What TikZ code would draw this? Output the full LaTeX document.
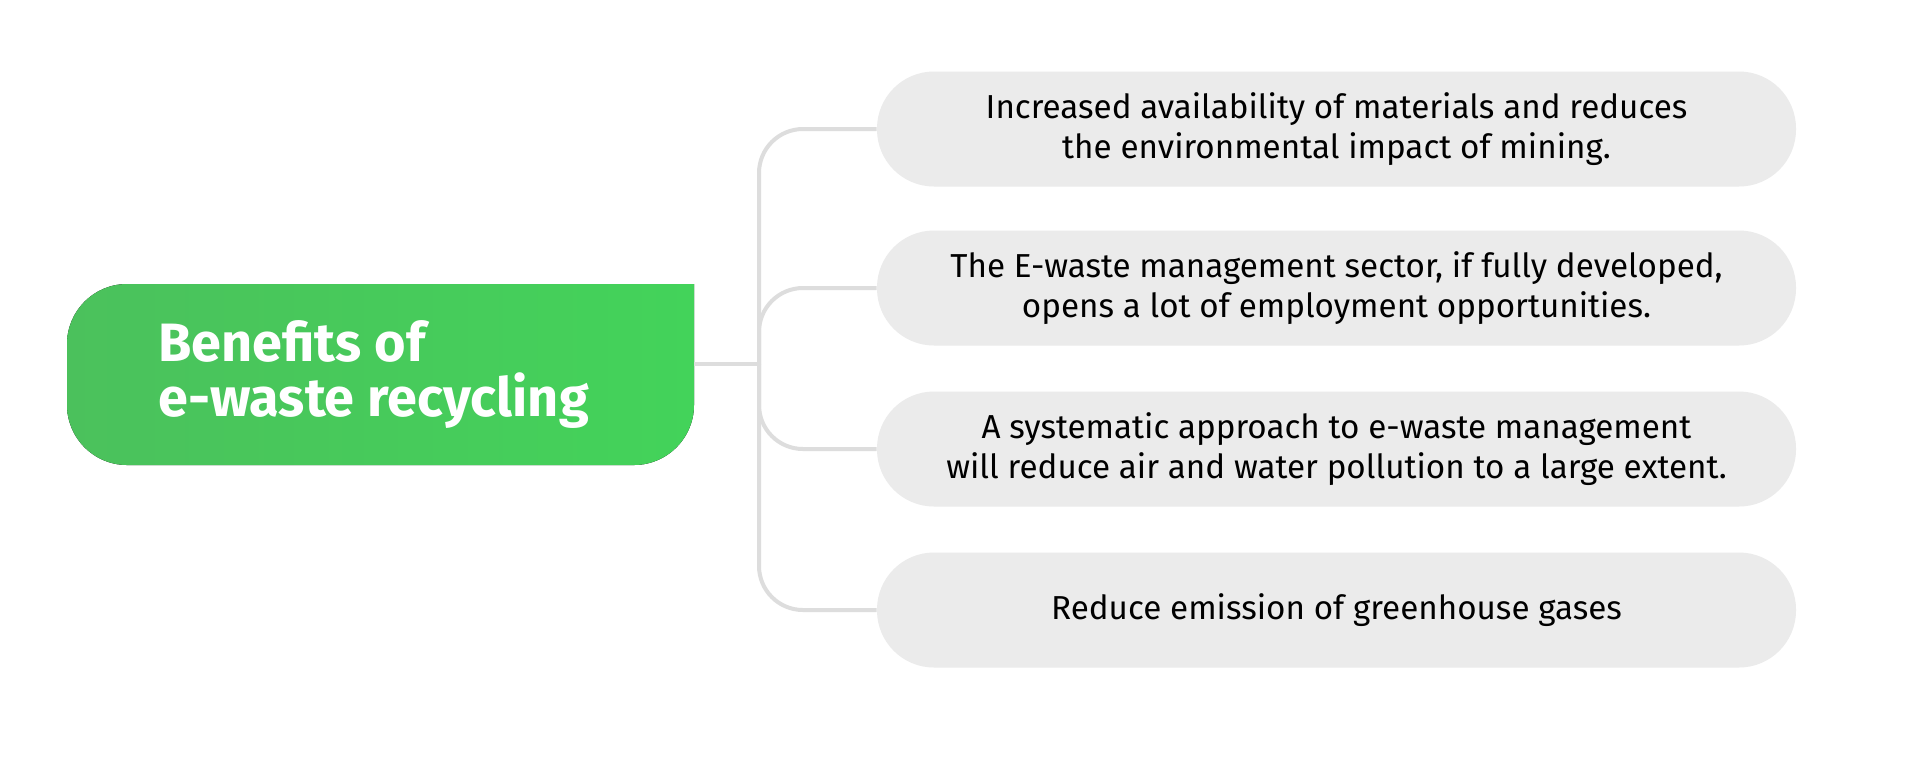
\documentclass[tikz,border=0pt]{standalone}
\usepackage{fontspec}
\setmainfont{Fira Sans}
\usetikzlibrary{calc}
\definecolor{boxgray}{HTML}{EBEBEB}
\definecolor{linegray}{HTML}{DDDDDD}
\definecolor{greenL}{HTML}{4BC15C}
\definecolor{greenR}{HTML}{43D35A}
\tikzset{
  benefit/.style={rectangle, rounded corners=28.5pt, fill=boxgray, minimum width=459.5pt, minimum height=57.5pt, align=center, inner sep=0pt, font=\fontsize{16.6}{20.3}\selectfont, text=black},
  link/.style={draw=linegray, line width=2pt, rounded corners=22pt},
}
\begin{document}
\begin{tikzpicture}[x=0.5pt,y=-0.5pt]
\useasboundingbox[fill=white] (0,0) rectangle (1920,783);
% green title shape
\fill[left color=greenL, right color=greenR]
  (694,284) -- (694,405) arc[start angle=0,end angle=-90,radius=30pt] -- (127,465)
  arc[start angle=270,end angle=180,radius=30pt] -- (67,344)
  arc[start angle=180,end angle=90,radius=30pt] -- cycle;
\node[rectangle, minimum width=313.5pt, minimum height=90.5pt, inner sep=0pt] (g) at (380.5,374.5) {};
\node[anchor=west, align=left, text=white, inner sep=0pt, font=\fontsize{27}{27.6}\bfseries\selectfont] (gt) at (158,374.5) {Benefits of\\e-waste recycling};
% benefit boxes
\node[benefit] (b1) at (1336.5,129) {Increased availability of materials and reduces\\the environmental impact of mining.};
\node[benefit] (b2) at (1336.5,288) {The E-waste management sector, if fully developed,\\opens a lot of employment opportunities.};
\node[benefit] (b3) at (1336.5,449) {A systematic approach to e-waste management\\will reduce air and water pollution to a large extent.};
\node[benefit] (b4) at (1336.5,610) {Reduce emission of greenhouse gases};
% connectors
\coordinate (hub) at (759,364);
\draw[draw=linegray, line width=2pt] (g.east |- hub) -- (hub);
\draw[link] (hub) |- (b1.west);
\draw[link] (hub) |- (b2.west);
\draw[link] (hub) |- (b3.west);
\draw[link] (hub) |- (b4.west);
\end{tikzpicture}
\end{document}
